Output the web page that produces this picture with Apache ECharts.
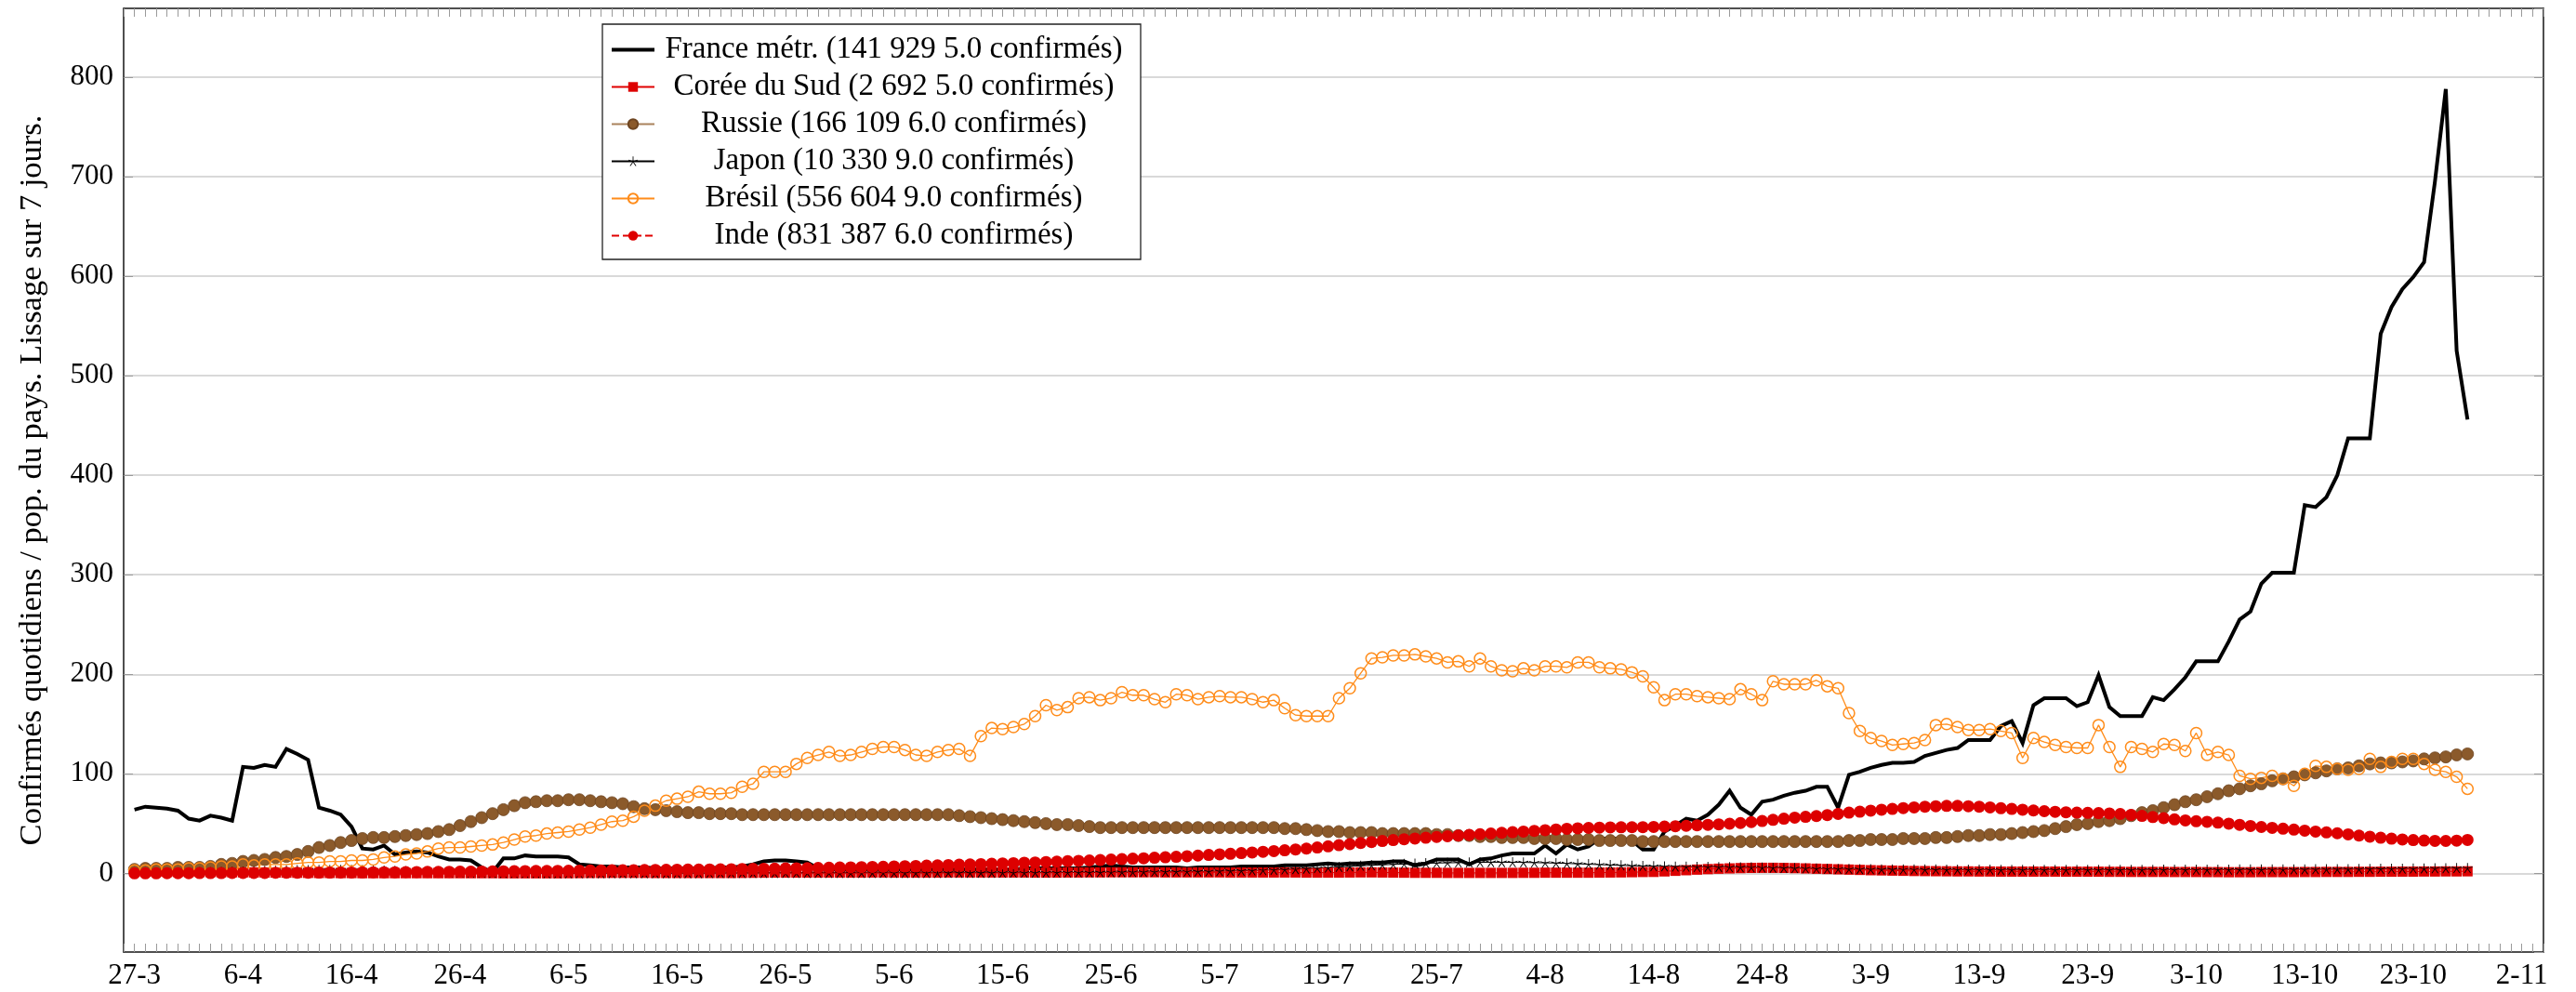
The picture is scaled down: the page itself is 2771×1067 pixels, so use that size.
<!DOCTYPE html>
<html><head><meta charset="utf-8">
<script src="https://cdn.jsdelivr.net/npm/echarts@6/dist/echarts.min.js"></script>
<style>html,body{margin:0;padding:0;background:#fff}#c{width:2771px;height:1067px}</style>
</head><body><div id="c"></div>
<script>
// x positions are day indices counted from 27-3
const xTickDays = [0,10,20,30,40,50,60,70,80,90,100,110,120,130,140,150,160,170,180,190,200,210,220];
const xTickLabels = ['27-3','6-4','16-4','26-4','6-5','16-5','26-5','5-6','15-6','25-6','5-7','15-7','25-7','4-8','14-8','24-8','3-9','13-9','23-9','3-10','13-10','23-10','2-11'];
const seriesNames = [
  'France métr. (141 929 5.0 confirmés)',
  'Corée du Sud (2 692 5.0 confirmés)',
  'Russie (166 109 6.0 confirmés)',
  'Japon (10 330 9.0 confirmés)',
  'Brésil (556 604 9.0 confirmés)',
  'Inde (831 387 6.0 confirmés)'
];
const yAxisTitle = 'Confirmés quotidiens / pop. du pays. Lissage sur 7 jours.';

const france = [
  64,67,66,65,63,55,53,58,56,53,
  107,106,109,107,125,120,114,66,63,59,
  47,25,24,28,19,21,22,21,17,14,
  14,13,6,1,15,15,18,17,17,17,
  16,9,8,7,7,6,6,6,5,5,
  5,5,5,5,6,6,7,9,12,13,
  13,12,11,5,4,4,4,4,4,4,
  4,4,4,4,4,4,4,4,4,4,
  4,4,5,5,5,5,5,5,6,7,
  8,7,6,6,6,6,6,5,6,6,
  6,6,7,7,7,7,8,8,8,9,
  10,9,10,10,11,11,12,12,8,10,
  14,14,14,9,14,15,18,20,20,20,
  28,20,29,24,27,35,35,35,33,24,
  24,42,48,55,53,59,69,83,66,59,
  72,74,78,81,83,87,87,66,99,102,
  106,109,111,111,112,118,121,124,126,134,
  134,134,148,153,131,169,176,176,176,168,
  172,199,167,158,158,158,177,174,185,197,
  213,213,213,233,255,263,291,302,302,302,
  370,368,378,400,437,437,437,542,569,587,
  599,614,695,788,525,456
];
const coree = [
  1.8,1.7,1.7,1.6,1.6,1.5,1.5,1.4,1.3,1.2,
  1.1,1.0,0.9,0.8,0.7,0.6,0.5,0.4,0.4,0.3,
  0.3,0.2,0.2,0.2,0.2,0.2,0.2,0.2,0.2,0.2,
  0.2,0.2,0.2,0.2,0.1,0.1,0.1,0.1,0.1,0.1,
  0.2,0.3,0.4,0.4,0.5,0.5,0.5,0.5,0.4,0.4,
  0.4,0.4,0.4,0.4,0.4,0.4,0.5,0.6,0.7,0.8,
  0.8,0.8,0.8,0.8,0.8,0.8,0.8,0.8,0.9,0.9,
  0.8,0.8,0.8,0.8,0.8,0.9,0.9,0.9,0.9,0.9,
  0.9,0.9,0.9,0.8,0.8,0.8,0.9,0.9,1.0,1.0,
  1.1,1.1,1.1,1.1,1.1,1.0,1.0,1.0,1.0,1.0,
  1.0,0.9,0.9,0.9,0.9,0.9,0.9,0.9,0.8,0.8,
  0.8,0.8,0.9,1.0,1.0,0.9,0.8,0.7,0.6,0.6,
  0.6,0.5,0.5,0.5,0.5,0.5,0.5,0.5,0.6,0.6,
  0.7,0.7,0.7,0.7,0.7,0.8,0.9,1.0,1.2,1.4,
  1.5,2.0,2.6,3.2,3.8,4.3,4.7,5.0,5.3,5.5,
  5.6,5.6,5.5,5.3,5.0,4.7,4.4,4.1,3.8,3.5,
  3.2,3.0,2.8,2.6,2.4,2.3,2.2,2.1,2.0,2.0,
  1.9,1.9,1.8,1.8,1.8,1.8,1.8,1.8,1.7,1.7,
  1.7,1.7,1.6,1.6,1.5,1.5,1.5,1.5,1.4,1.4,
  1.4,1.3,1.3,1.2,1.2,1.2,1.3,1.3,1.3,1.3,
  1.4,1.4,1.5,1.5,1.5,1.6,1.6,1.7,1.7,1.8,
  1.8,1.9,1.9,2.0,2.0,2.1
];
const russie = [
  4,5,5,5,6,6,6,7,9,10,
  12,13,14,16,17,19,22,26,28,31,
  33,35,36,36,37,38,39,40,42,44,
  48,52,56,60,64,68,71,72,73,73,
  74,74,73,72,71,70,67,65,64,63,
  62,61,61,60,60,60,59,59,59,59,
  59,59,59,59,59,59,59,59,59,59,
  59,59,59,59,59,59,58,57,56,55,
  54,53,52,51,50,49,49,48,47,46,
  46,46,46,46,46,46,46,46,46,46,
  46,46,46,46,46,46,45,45,44,43,
  42,42,41,41,41,40,40,40,40,40,
  39,39,38,38,37,37,36,36,36,35,
  35,35,34,34,34,33,33,33,33,32,
  32,32,32,32,32,32,32,32,32,32,
  32,32,32,32,32,32,32,32,33,33,
  34,34,34,35,35,35,36,36,37,38,
  38,39,39,40,41,42,43,45,47,49,
  50,52,53,55,58,61,63,66,69,72,
  74,77,80,83,85,88,90,93,95,97,
  99,101,103,105,106,108,110,111,111,112,
  113,115,116,117,119,120
];
const japon = [
  0.5,0.5,0.6,0.7,0.8,0.9,1.0,1.2,1.4,1.6,
  1.8,2.0,2.3,2.6,2.9,3.1,3.3,3.4,3.5,3.5,
  3.4,3.2,3.0,2.7,2.4,2.1,1.8,1.5,1.2,1.0,
  0.8,0.7,0.6,0.5,0.4,0.4,0.3,0.3,0.2,0.2,
  0.2,0.2,0.2,0.2,0.2,0.2,0.2,0.2,0.2,0.2,
  0.2,0.2,0.2,0.3,0.3,0.3,0.3,0.3,0.3,0.3,
  0.3,0.3,0.3,0.3,0.3,0.3,0.3,0.4,0.4,0.4,
  0.4,0.4,0.4,0.4,0.4,0.5,0.5,0.5,0.5,0.5,
  0.6,0.6,0.6,0.7,0.7,0.8,0.8,0.9,0.9,1.0,
  1.1,1.2,1.3,1.4,1.5,1.6,1.7,1.8,1.9,2.0,
  2.2,2.4,2.6,2.9,3.2,3.5,3.8,4.2,4.7,5.2,
  5.8,6.4,7.0,7.6,8.1,8.6,9.0,9.4,9.8,10.1,
  10.4,10.6,10.8,11.0,11.1,11.2,11.2,11.1,11.0,10.8,
  10.6,10.3,10.0,9.6,9.2,8.8,8.4,8.0,7.7,7.4,
  7.2,7.0,6.8,6.6,6.5,6.4,6.3,6.2,6.1,6.0,
  5.8,5.6,5.4,5.2,5.0,4.8,4.6,4.4,4.3,4.2,
  4.1,4.0,4.0,3.9,3.9,3.8,3.8,3.7,3.7,3.6,
  3.6,3.6,3.5,3.5,3.5,3.5,3.5,3.5,3.5,3.5,
  3.5,3.5,3.5,3.5,3.5,3.5,3.5,3.6,3.6,3.6,
  3.6,3.7,3.7,3.7,3.8,3.8,3.8,3.9,3.9,4.0,
  4.0,4.1,4.1,4.2,4.2,4.3,4.4,4.5,4.6,4.7,
  4.8,4.9,5.0,5.1,5.2,5.3
];
const bresil = [
  3,3,4,4,4,5,5,6,7,7,
  9,8,9,9,9,10,11,11,12,12,
  13,13,14,16,17,19,20,22,25,26,
  26,27,28,29,31,34,37,38,40,41,
  42,44,46,49,52,53,57,63,68,73,
  75,77,82,80,80,81,87,90,102,102,
  102,110,116,119,122,118,119,122,125,127,
  127,124,119,118,122,124,125,118,138,146,
  145,147,150,158,169,164,167,176,177,174,
  176,182,179,179,175,172,180,179,175,177,
  178,177,177,175,172,174,166,159,158,158,
  158,176,186,201,216,217,219,219,220,218,
  216,212,213,208,216,208,204,203,206,204,
  208,208,207,212,212,207,206,205,202,198,
  187,174,180,180,178,177,176,175,185,180,
  174,193,190,190,190,194,188,186,161,143,
  136,133,129,130,131,134,149,150,147,144,
  144,145,143,141,116,136,132,129,127,126,
  126,149,127,107,127,125,122,130,129,123,
  141,119,122,119,98,95,96,98,95,88,
  100,108,107,105,104,105,115,107,112,115,
  115,110,104,102,97,85
];
const inde = [
  0.1,0.1,0.1,0.2,0.2,0.2,0.3,0.3,0.3,0.4,
  0.4,0.5,0.5,0.6,0.6,0.7,0.7,0.8,0.8,0.9,
  0.9,1.0,1.1,1.2,1.2,1.3,1.4,1.5,1.5,1.6,
  1.7,1.8,1.9,2.0,2.1,2.2,2.3,2.4,2.5,2.6,
  2.7,2.8,2.9,3.0,3.1,3.2,3.3,3.4,3.5,3.6,
  3.7,3.8,3.9,4.0,4.1,4.2,4.4,4.5,4.7,4.8,
  5.0,5.1,5.3,5.5,5.7,5.9,6.1,6.3,6.5,6.7,
  7.0,7.2,7.5,7.8,8.1,8.4,8.7,9.0,9.3,9.7,
  10.0,10.3,10.7,11.0,11.4,11.8,12.2,12.6,13.0,13.4,
  13.9,14.3,14.8,15.2,15.7,16.2,16.7,17.3,17.9,18.5,
  19.1,19.7,20.4,21.0,21.7,22.4,23.2,24.0,24.9,26.0,
  27.2,28.3,29.4,30.5,31.5,32.5,33.5,34.3,35.0,35.8,
  36.6,37.3,38.0,38.7,39.4,40.1,40.8,41.4,42.0,42.7,
  43.4,44.1,44.8,45.3,45.7,46.0,46.2,46.3,46.4,46.5,
  46.7,47.0,47.4,47.8,48.3,48.8,49.3,49.9,50.6,51.5,
  52.6,53.8,55.0,56.0,56.8,57.6,58.6,59.8,61.0,62.0,
  63.0,64.0,64.8,65.6,66.3,67.0,67.5,67.8,67.8,67.5,
  67.0,66.3,65.5,64.8,64.0,63.2,62.5,61.9,61.4,61.0,
  60.8,60.6,60.2,59.7,58.8,57.8,56.6,55.5,54.3,53.2,
  52.4,51.8,51.0,50.0,48.8,47.6,46.6,45.8,44.9,44.0,
  43.0,42.0,41.2,40.3,39.2,38.0,36.9,35.8,34.9,34.1,
  33.5,33.0,32.7,32.6,32.9,33.6
];

const FONT = 'Liberation Serif';
const X_MIN = -1, X_MAX = 222, Y_MIN = -79, Y_MAX = 869;
const dailyTicks = [];
for (let d = X_MIN; d <= X_MAX; d++) dailyTicks.push(d);
const pairs = arr => arr.map((v, i) => [i, v]);
const STAR = 'path://M9.2,10L9.2,0L10.8,0L10.8,10ZM10.25,10.76L19.76,7.67L19.26,6.15L9.75,9.24ZM10.25,9.24L0.74,6.15L0.24,7.67L9.75,10.76ZM9.35,9.53L3.47,17.62L4.77,18.56L10.65,10.47ZM9.35,10.47L15.23,18.56L16.53,17.62L10.65,9.53Z';
const THICK_LINE_ICON = 'path://M0,0L46,0L46,4L0,4Z';

const chart = echarts.init(document.getElementById('c'), null, {renderer: 'canvas'});
const frame = {show: true, onZero: false, lineStyle: {color: '#222', width: 1.6}};
const tickStyle = {color: '#9a9a9a', width: 1};

const base = {type: 'line', showAllSymbol: true, emphasis: {disabled: true}, animation: false};

const legendData = seriesNames.map((n, i) => i === 0 ? {name: n, icon: THICK_LINE_ICON, itemStyle: {color: '#000'}} : {name: n});

chart.setOption({
  animation: false,
  backgroundColor: '#fff',
  grid: {left: 133, right: 35, top: 9, bottom: 43},
  legend: {
    orient: 'vertical', left: 648, top: 26,
    padding: [10, 13, 8, 9], itemGap: 5, itemWidth: 46, itemHeight: 13, symbolKeepAspect: true,
    backgroundColor: '#fff', borderColor: '#222', borderWidth: 1.3,
    selectedMode: false, data: legendData,
    formatter: n => '{c|' + n + '}',
    textStyle: {fontFamily: FONT, fontSize: 33, lineHeight: 35, color: '#000',
      rich: {c: {width: 505, align: 'center', fontFamily: FONT, fontSize: 33, lineHeight: 35, color: '#000'}}}
  },
  xAxis: [
    {type: 'value', min: X_MIN, max: X_MAX, position: 'bottom',
      axisLine: frame,
      axisTick: {show: true, inside: true, length: 9, customValues: dailyTicks, lineStyle: tickStyle},
      axisLabel: {show: true, customValues: xTickDays, margin: 10,
        formatter: v => { const k = xTickDays.indexOf(Math.round(v)); return k >= 0 ? xTickLabels[k] : ''; },
        fontFamily: FONT, fontSize: 31, color: '#000'},
      splitLine: {show: false}},
    {type: 'value', min: X_MIN, max: X_MAX, position: 'top',
      axisLine: frame,
      axisTick: {show: true, inside: true, length: 9, customValues: dailyTicks, lineStyle: tickStyle},
      axisLabel: {show: false}, splitLine: {show: false}}
  ],
  yAxis: [
    {type: 'value', min: Y_MIN, max: Y_MAX, splitNumber: 9, position: 'left',
      axisLine: frame,
      axisTick: {show: true, inside: true, length: 10, lineStyle: tickStyle},
      axisLabel: {margin: 11, fontFamily: FONT, fontSize: 31, color: '#000', showMinLabel: false, showMaxLabel: false},
      splitLine: {show: true, lineStyle: {color: '#cccccc', width: 1.5}},
      name: yAxisTitle, nameLocation: 'middle', nameRotate: 90, nameGap: 81,
      nameTextStyle: {fontFamily: FONT, fontSize: 34.5, color: '#000'}},
    {type: 'value', min: Y_MIN, max: Y_MAX, splitNumber: 9, position: 'right',
      axisLine: frame,
      axisTick: {show: true, inside: true, length: 10, lineStyle: tickStyle},
      axisLabel: {show: false}, splitLine: {show: false}}
  ],
  series: [
    Object.assign({}, base, {name: seriesNames[0], data: pairs(france), symbol: 'none',
      lineStyle: {color: '#000', width: 4, join: 'miter'}, itemStyle: {color: '#000'}}),
    Object.assign({}, base, {name: seriesNames[1], data: pairs(coree), symbol: 'rect', symbolSize: 11,
      lineStyle: {color: '#e00000', width: 1}, itemStyle: {color: '#dd0000'}}),
    Object.assign({}, base, {name: seriesNames[2], data: pairs(russie), symbol: 'circle', symbolSize: 13,
      lineStyle: {color: '#a9825c', width: 1.2}, itemStyle: {color: '#8b5a2b', borderColor: '#6e4521', borderWidth: 0.8}}),
    Object.assign({}, base, {name: seriesNames[3], data: pairs(japon), symbol: STAR, symbolSize: 11,
      lineStyle: {color: '#000', width: 1}, itemStyle: {color: '#000'}}),
    Object.assign({}, base, {name: seriesNames[4], data: pairs(bresil), symbol: 'circle', symbolSize: 12,
      lineStyle: {color: '#ff8c1a', width: 1.3}, itemStyle: {color: 'rgba(255,255,255,0)', borderColor: '#ff8c1a', borderWidth: 1.5}}),
    Object.assign({}, base, {name: seriesNames[5], data: pairs(inde), symbol: 'circle', symbolSize: 13,
      lineStyle: {color: '#e00000', width: 1.2, type: 'dashed'}, itemStyle: {color: '#dd0000'}})
  ]
});
</script>
</body></html>
